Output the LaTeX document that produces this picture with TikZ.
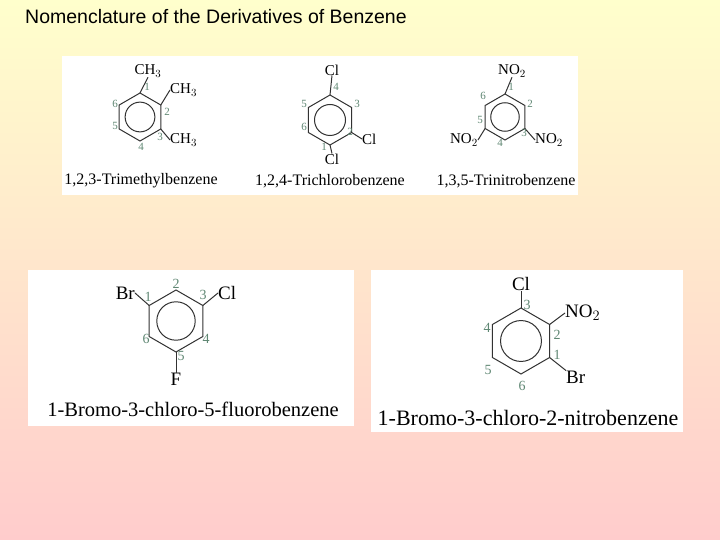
\documentclass[tikz,border=0pt]{standalone}
\usepackage{fontspec}
\setmainfont{Liberation Serif}
\newfontfamily\titlefont{Liberation Sans}
\definecolor{numc}{RGB}{95,135,115}
\definecolor{bondc}{RGB}{50,50,50}
\definecolor{bgtop}{RGB}{255,255,204}
\definecolor{bgbot}{RGB}{255,204,204}
\tikzset{
  panel/.style={fill=white,draw=none},
  bond/.style={draw=bondc,line width=1pt},
  num/.style={text=numc,inner sep=0pt,font=\fontsize{11}{11}\selectfont},
  grp/.style={inner sep=0pt,font=\fontsize{15}{15}\selectfont},
  captext/.style={inner sep=0pt,font=\fontsize{16}{16}\selectfont},
  bigcap/.style={inner sep=0pt,font=\fontsize{20.5}{21}\selectfont},
  biggrp/.style={inner sep=0pt,font=\fontsize{19}{19}\selectfont},
  bignum/.style={text=numc,inner sep=0pt,font=\fontsize{14}{14}\selectfont},
}
\newcommand{\benzring}[4]{%
  \coordinate (#1t) at (#2,#3-#4);
  \coordinate (#1ur) at (#2+0.866*#4,#3-0.5*#4);
  \coordinate (#1lr) at (#2+0.866*#4,#3+0.5*#4);
  \coordinate (#1b) at (#2,#3+#4);
  \coordinate (#1ll) at (#2-0.866*#4,#3+0.5*#4);
  \coordinate (#1ul) at (#2-0.866*#4,#3-0.5*#4);
  \coordinate (#1c) at (#2,#3);
  \draw[bond] (#1t)--(#1ur)--(#1lr)--(#1b)--(#1ll)--(#1ul)--cycle;
  \draw[bond] (#1c) circle[radius=0.62*#4];
}
\begin{document}
\begin{tikzpicture}[x=1pt,y=-1pt]
\shade[top color=bgtop,bottom color=bgbot] (0,0) rectangle (720,540);
\useasboundingbox (0,0) rectangle (720,540);
\node[anchor=west,inner sep=0pt,font=\titlefont\fontsize{19.5}{20}\selectfont] (title) at (25,17) {Nomenclature of the Derivatives of Benzene};
\fill[panel] (62,56) rectangle (578,195);
\fill[panel] (28,270) rectangle (354,426);
\fill[panel] (371,270) rectangle (683,432);
% molecule 1
\benzring{a}{140}{117}{24}
\node[grp] (a1g) at (148,71) {CH$_3$};
\node[grp,anchor=west] (a2g) at (170,90) {CH$_3$};
\node[grp,anchor=west] (a3g) at (170,140) {CH$_3$};
\draw[bond] (at)--(a1g.south);
\draw[bond] (aur)--(a2g.west);
\draw[bond] (alr)--(a3g.west);
\node[num] (a1) at (147,87) {1};
\node[num] (a2) at (167,112) {2};
\node[num] (a3) at (160,137) {3};
\node[num] (a4) at (141,147) {4};
\node[num] (a5) at (115,126) {5};
\node[num] (a6) at (115,104) {6};
\node[captext] (acap) at (141,181) {1,2,3-Trimethylbenzene};
% molecule 2
\benzring{b}{330}{120}{25}
\node[grp] (b4g) at (332,70) {Cl};
\node[grp] (b1g) at (332,159) {Cl};
\node[grp,anchor=west] (b2g) at (362,139) {Cl};
\draw[bond] (bt)--(b4g.south);
\draw[bond] (bb)--(b1g.north);
\draw[bond] (blr)--(b2g.west);
\node[num] (b4) at (336,87) {4};
\node[num] (b3) at (357,104) {3};
\node[num] (b2) at (350,132) {2};
\node[num] (b1) at (324,147) {1};
\node[num] (b6) at (304,127) {6};
\node[num] (b5) at (304,104) {5};
\node[captext] (bcap) at (330,181) {1,2,4-Trichlorobenzene};
% molecule 3
\benzring{c}{505}{117}{23}
\node[grp] (c1g) at (512,71) {NO$_2$};
\node[grp,anchor=east] (c5g) at (478,140) {NO$_2$};
\node[grp,anchor=west] (c3g) at (535,140) {NO$_2$};
\draw[bond] (ct)--(c1g.south);
\draw[bond] (cll)--(c5g.east);
\draw[bond] (clr)--(c3g.west);
\node[num] (c1) at (511,87) {1};
\node[num] (c2) at (530,104) {2};
\node[num] (c3) at (524,133) {3};
\node[num] (c4) at (500,143) {4};
\node[num] (c5) at (480,120) {5};
\node[num] (c6) at (483,96) {6};
\node[captext] (ccap) at (506,181) {1,3,5-Trinitrobenzene};
% molecule 4
\benzring{d}{176}{321}{31}
\node[biggrp,anchor=east] (d1g) at (135,293) {Br};
\node[biggrp,anchor=west] (d3g) at (218,293) {Cl};
\node[biggrp] (d5g) at (176,379) {F};
\draw[bond] (dul)--(d1g.east);
\draw[bond] (dur)--(d3g.west);
\draw[bond] (db)--(d5g.north);
\node[bignum] (d1) at (148,297) {1};
\node[bignum] (d2) at (176,284) {2};
\node[bignum] (d3) at (203,295) {3};
\node[bignum] (d4) at (206,339) {4};
\node[bignum] (d5) at (181,356) {5};
\node[bignum] (d6) at (146,339) {6};
\node[bigcap] (dcap) at (193,409) {1-Bromo-3-chloro-5-fluorobenzene};
% molecule 5
\benzring{e}{521}{341}{33}
\node[biggrp] (e3g) at (521,284) {Cl};
\node[biggrp,anchor=west] (e2g) at (565,313) {NO$_2$};
\node[biggrp,anchor=west] (e1g) at (566,377) {Br};
\draw[bond] (et)--(e3g.south);
\draw[bond] (eur)--(e2g.west);
\draw[bond] (elr)--(e1g.north west);
\node[bignum] (e3) at (527,305) {3};
\node[bignum] (e2) at (557,335) {2};
\node[bignum] (e1) at (557,355) {1};
\node[bignum] (e4) at (487,328) {4};
\node[bignum] (e5) at (488,370) {5};
\node[bignum] (e6) at (522,386) {6};
\node[inner sep=0pt,font=\fontsize{22}{22}\selectfont] (ecap) at (528,418) {1-Bromo-3-chloro-2-nitrobenzene};
\end{tikzpicture}
\end{document}
